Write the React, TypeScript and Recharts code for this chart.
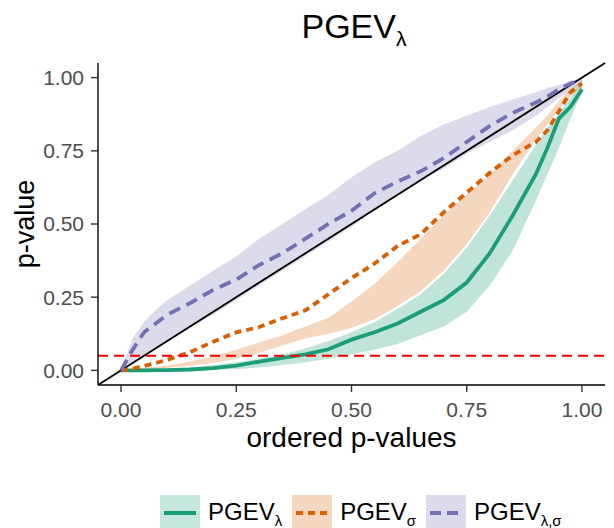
import React from 'react';
import { ComposedChart, Area, Line, XAxis, YAxis, ReferenceLine, Legend, Label } from 'recharts';

const FONT = '"Liberation Sans", Arial, Helvetica, sans-serif';

// ordered p-values (x grid)
const xs = [0, 0.025, 0.05, 0.075, 0.1, 0.15, 0.2, 0.25, 0.3, 0.35, 0.4, 0.45, 0.5, 0.55, 0.6, 0.65, 0.7, 0.75, 0.8, 0.85, 0.9, 0.925, 0.95, 0.975, 1.0];

// PGEV_lambda
const lamMid = [0, 0, 0, 0.001, 0.001, 0.003, 0.008, 0.016, 0.03, 0.043, 0.055, 0.072, 0.105, 0.13, 0.16, 0.2, 0.24, 0.3, 0.4, 0.53, 0.67, 0.76, 0.86, 0.9, 0.96];
const lamLo = [0, 0, 0, 0, 0, 0, 0.002, 0.005, 0.01, 0.018, 0.028, 0.04, 0.055, 0.07, 0.09, 0.12, 0.15, 0.2, 0.29, 0.41, 0.58, 0.67, 0.76, 0.86, 0.95];
const lamHi = [0, 0.002, 0.003, 0.005, 0.006, 0.01, 0.018, 0.028, 0.04, 0.055, 0.075, 0.1, 0.13, 0.165, 0.21, 0.26, 0.33, 0.42, 0.53, 0.65, 0.77, 0.83, 0.88, 0.93, 0.99];

// PGEV_sigma
const sigMid = [0, 0.006, 0.015, 0.025, 0.036, 0.062, 0.098, 0.13, 0.148, 0.178, 0.205, 0.26, 0.315, 0.365, 0.425, 0.465, 0.54, 0.607, 0.675, 0.735, 0.78, 0.82, 0.885, 0.95, 0.98];
const sigLo = [0, 0.001, 0.003, 0.006, 0.009, 0.016, 0.025, 0.04, 0.06, 0.085, 0.11, 0.125, 0.145, 0.175, 0.22, 0.27, 0.34, 0.43, 0.54, 0.67, 0.79, 0.84, 0.89, 0.935, 0.97];
const sigHi = [0, 0.004, 0.008, 0.012, 0.017, 0.03, 0.048, 0.07, 0.095, 0.12, 0.15, 0.18, 0.235, 0.295, 0.37, 0.45, 0.53, 0.6, 0.67, 0.75, 0.83, 0.87, 0.92, 0.96, 0.99];

// PGEV_lambda,sigma
const pairMid = [0, 0.07, 0.13, 0.16, 0.19, 0.23, 0.275, 0.31, 0.36, 0.4, 0.45, 0.5, 0.545, 0.605, 0.645, 0.68, 0.725, 0.78, 0.835, 0.88, 0.915, 0.935, 0.96, 0.98, 0.99];
const pairLo = [0, 0.03, 0.055, 0.075, 0.1, 0.15, 0.19, 0.24, 0.29, 0.34, 0.39, 0.44, 0.49, 0.55, 0.6, 0.65, 0.69, 0.74, 0.78, 0.82, 0.87, 0.9, 0.93, 0.955, 0.98];
const pairHi = [0, 0.11, 0.165, 0.205, 0.24, 0.29, 0.34, 0.39, 0.45, 0.5, 0.55, 0.6, 0.66, 0.71, 0.75, 0.8, 0.84, 0.87, 0.9, 0.925, 0.95, 0.965, 0.975, 0.99, 0.995];

const axisTicks = [0, 0.25, 0.5, 0.75, 1.0];
const alphaLevel = 0.05;

const GREEN = '#1B9E77';
const ORANGE = '#D95F02';
const PURPLE = '#7570B3';

const data = xs.map((x, i) => ({
  x,
  lam: lamMid[i],
  lamBand: [lamLo[i], lamHi[i]],
  sig: sigMid[i],
  sigBand: [sigLo[i], sigHi[i]],
  pair: pairMid[i],
  pairBand: [pairLo[i], pairHi[i]],
}));

const legendItems = [
  { color: GREEN, bg: 'rgba(27,158,119,0.25)', dash: undefined as string | undefined, sub: 'λ' },
  { color: ORANGE, bg: 'rgba(217,95,2,0.25)', dash: '7 5', sub: 'σ' },
  { color: PURPLE, bg: 'rgba(117,112,179,0.25)', dash: '11 6', sub: 'λ,σ' },
];

const LegendContent = () => (
  <div style={{ display: 'flex', alignItems: 'center', height: 33, paddingLeft: 152, fontFamily: FONT, fontSize: 24, color: '#000' }}>
    {legendItems.map((it, i) => (
      <div key={i} style={{ display: 'flex', alignItems: 'center', marginRight: 10 }}>
        <svg width={40} height={33} style={{ background: it.bg, display: 'block' }}>
          <line x1={4} x2={36} y1={18} y2={18} stroke={it.color} strokeWidth={4} strokeDasharray={it.dash} />
        </svg>
        <span style={{ marginLeft: 8, lineHeight: '33px' }}>
          PGEV<sub style={{ fontSize: '0.62em', lineHeight: 0 }}>{it.sub}</sub>
        </span>
      </div>
    ))}
  </div>
);

const YTitle = (props: any) => {
  const vb = props.viewBox || { x: 0, y: 55, width: 90, height: 322 };
  const cx = 17;
  const cy = vb.y + vb.height / 2;
  return (
    <text x={cx} y={cy} transform={`rotate(-90 ${cx} ${cy})`} textAnchor="middle" dominantBaseline="central" fontSize={27} fontFamily={FONT} fill="#000">
      p-value
    </text>
  );
};

const XTitle = (props: any) => {
  const vb = props.viewBox || { x: 90, y: 377, width: 507, height: 110 };
  const cx = vb.x + vb.width / 2;
  const cy = vb.y + 62;
  return (
    <text x={cx} y={cy} textAnchor="middle" fontSize={28} fontFamily={FONT} fill="#000">
      ordered p-values
    </text>
  );
};

const fmt = (v: number) => v.toFixed(2);

export default function App() {
  return (
    <div style={{ position: 'relative', width: 606, height: 520, fontFamily: FONT }}>
      <div style={{ position: 'absolute', left: 346, top: 1, transform: 'translateX(-50%)', fontSize: 34, lineHeight: '34px', whiteSpace: 'nowrap', color: '#000' }}>
        PGEV<sub style={{ fontSize: '0.62em', lineHeight: 0 }}>λ</sub>
      </div>
      <ComposedChart width={606} height={520} data={data} margin={{ top: 55, right: 9, left: 0, bottom: 0 }}>
        <XAxis
          type="number"
          dataKey="x"
          domain={[-0.05, 1.05]}
          ticks={axisTicks}
          tickFormatter={fmt}
          allowDataOverflow
          height={110}
          tickSize={7}
          tickMargin={10}
          stroke="#000"
          axisLine={{ stroke: '#000', strokeWidth: 1.4 }}
          tickLine={{ stroke: '#333', strokeWidth: 1.4 }}
          tick={{ fill: '#4D4D4D', fontSize: 21, fontFamily: FONT }}
        >
          <Label content={XTitle} />
        </XAxis>
        <YAxis
          type="number"
          domain={[-0.05, 1.05]}
          ticks={axisTicks}
          tickFormatter={fmt}
          allowDataOverflow
          width={90}
          tickSize={7}
          tickMargin={7}
          stroke="#000"
          axisLine={{ stroke: '#000', strokeWidth: 1.4 }}
          tickLine={{ stroke: '#333', strokeWidth: 1.4 }}
          tick={{ fill: '#4D4D4D', fontSize: 21, fontFamily: FONT }}
        >
          <Label content={YTitle} />
        </YAxis>
        <Legend verticalAlign="bottom" height={33} content={LegendContent} />
        <Area type="linear" dataKey="lamBand" stroke="none" fill={GREEN} fillOpacity={0.28} isAnimationActive={false} legendType="none" />
        <Area type="linear" dataKey="sigBand" stroke="none" fill={ORANGE} fillOpacity={0.25} isAnimationActive={false} legendType="none" />
        <Area type="linear" dataKey="pairBand" stroke="none" fill={PURPLE} fillOpacity={0.25} isAnimationActive={false} legendType="none" />
        <ReferenceLine segment={[{ x: -0.05, y: -0.05 }, { x: 1.05, y: 1.05 }]} stroke="#000" strokeWidth={1.8} />
        <Line type="linear" dataKey="lam" stroke={GREEN} strokeWidth={3.8} dot={false} isAnimationActive={false} />
        <Line type="linear" dataKey="sig" stroke={ORANGE} strokeWidth={3.8} strokeDasharray="7 5" dot={false} isAnimationActive={false} />
        <Line type="linear" dataKey="pair" stroke={PURPLE} strokeWidth={3.8} strokeDasharray="12 7" dot={false} isAnimationActive={false} />
        <ReferenceLine y={alphaLevel} stroke="#FF0000" strokeWidth={2} strokeDasharray="10 6" />
      </ComposedChart>
    </div>
  );
}
